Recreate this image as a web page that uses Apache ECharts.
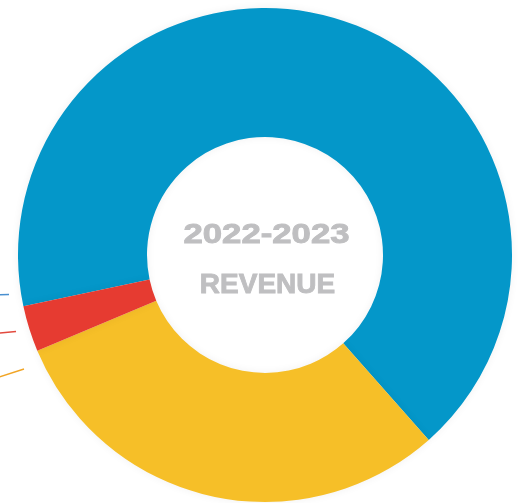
<!DOCTYPE html>
<html>
<head>
<meta charset="utf-8">
<script src="https://cdn.jsdelivr.net/npm/echarts@6/dist/echarts.min.js"></script>
<style>
  html, body { margin: 0; padding: 0; background: #ffffff; }
  #chart { width: 527px; height: 503px; }
</style>
</head>
<body>
<div id="chart"></div>
<script>
// Revenue share per segment, in percent
const segments = ['Segment A', 'Segment B', 'Segment C'];
const shares = [66.8, 30.2, 3.0];
const colors = ['#0497c9', '#f6bf28', '#e63b31'];
const centerLines = ['2022-2023', 'REVENUE'];

const chart = echarts.init(document.getElementById('chart'), null, { renderer: 'canvas' });

const data = segments.map((name, i) => ({
  name: name,
  value: shares[i],
  itemStyle: { color: colors[i] }
}));

const captionStyle = {
  font: 'bold 28px "Liberation Sans", Arial, sans-serif',
  fill: '#bfbfc1',
  stroke: '#bfbfc1',
  lineWidth: 0.9,
  align: 'center',
  verticalAlign: 'middle'
};

chart.setOption({
  backgroundColor: '#ffffff',
  animation: false,
  series: [{
    type: 'pie',
    center: [265, 255],
    radius: [118, 247],
    startAngle: 192,
    clockwise: true,
    label: { show: false },
    labelLine: { show: false },
    emphasis: { disabled: true },
    itemStyle: {
      shadowBlur: 8,
      shadowColor: 'rgba(0,0,0,0.06)'
    },
    data: data
  }],
  graphic: [
    // centre caption
    {
      type: 'text',
      x: 266.5, y: 235,
      scaleX: 1.24,
      style: Object.assign({ text: centerLines[0] }, captionStyle)
    },
    {
      type: 'text',
      x: 267.5, y: 285,
      style: Object.assign({ text: centerLines[1] }, captionStyle)
    },
    // guide stubs leading to the legend off the left edge
    {
      type: 'polyline',
      shape: { points: [[-10, 295], [9, 294.5]] },
      style: { stroke: '#4a90d0', lineWidth: 1.4 }
    },
    {
      type: 'polyline',
      shape: { points: [[-10, 334], [16, 331.5]] },
      style: { stroke: '#e24a3e', lineWidth: 1.4 }
    },
    {
      type: 'polyline',
      shape: { points: [[-10, 380], [24, 369]] },
      style: { stroke: '#f1a526', lineWidth: 1.4 }
    }
  ]
});
</script>
</body>
</html>
